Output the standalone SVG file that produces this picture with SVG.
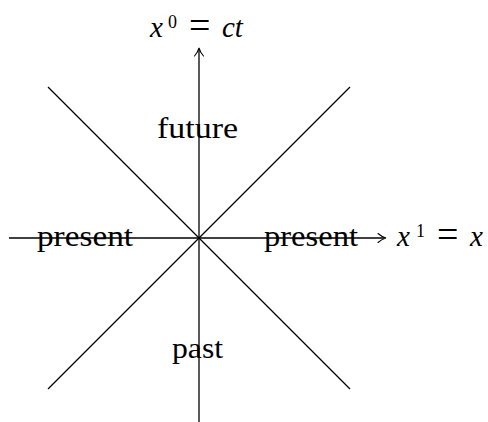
<svg xmlns="http://www.w3.org/2000/svg" width="488" height="422" viewBox="0 0 488 422">
<style>
.ln{stroke:#000;stroke-width:1.3;fill:none}
.ah{stroke:#000;stroke-width:1.1;fill:none;stroke-linecap:round}
text{font-family:"Liberation Serif","DejaVu Serif",serif;font-size:29px;fill:#000}
.it{font-style:italic}
.sup{font-size:18px}
.eq{font-size:38px}
</style>
<rect width="488" height="422" fill="#fff"/>
<g id="connectors">
<line class="ln" x1="48" y1="87" x2="350" y2="389"/>
<line class="ln" x1="350" y1="87" x2="48" y2="389"/>
<line class="ln" x1="199" y1="422" x2="199" y2="49"/>
<path class="ah" d="M194.5,56 Q198,52 199,48 Q200,52 203.5,56"/>
<line class="ln" x1="9" y1="238" x2="384" y2="238"/>
<path class="ah" d="M378,233.5 Q382,237 386,238 Q382,239 378,242.5"/>
</g>
<g id="label-time">
<text class="it" x="150" y="37">x</text>
<text class="sup" x="168" y="28">0</text>
<text class="eq" x="189" y="38">=</text>
<text class="it" x="222" y="37">ct</text>
</g>
<g id="label-space">
<text class="it" x="397" y="246">x</text>
<text class="sup" x="416" y="237">1</text>
<text class="eq" x="437" y="247">=</text>
<text class="it" x="470" y="246">x</text>
</g>
<g id="future"><text x="157" y="138" textLength="81" lengthAdjust="spacingAndGlyphs">future</text></g>
<g id="past"><text x="172" y="358" textLength="51" lengthAdjust="spacingAndGlyphs">past</text></g>
<g id="present-left"><text x="37" y="246" textLength="96" lengthAdjust="spacingAndGlyphs">present</text></g>
<g id="present-right"><text x="264" y="246" textLength="94" lengthAdjust="spacingAndGlyphs">present</text></g>
</svg>
